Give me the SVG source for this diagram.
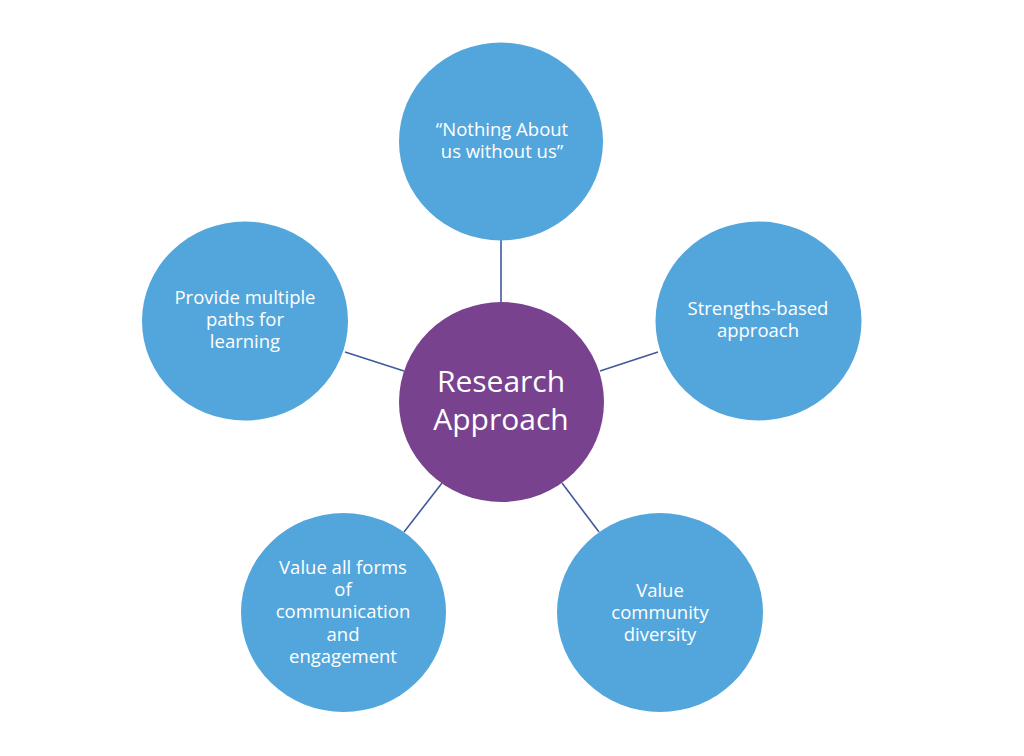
<svg xmlns="http://www.w3.org/2000/svg" width="1024" height="756" viewBox="0 0 1024 756">
<style>
.sat{fill:#53A6DC;}
.hub{fill:#78428F;}
.lbl{font-family:"Open Sans","Liberation Sans",sans-serif;font-size:18.5px;fill:#FFFFFF;text-anchor:middle;}
.hubl{font-family:"Open Sans","Liberation Sans",sans-serif;font-size:30px;fill:#FFFFFF;text-anchor:middle;}
.con{stroke:#41599B;stroke-width:1.6;fill:none;}
</style>
<rect width="1024" height="756" fill="#FFFFFF"/>
<g id="connectors">
<line class="con" x1="501" y1="240" x2="501" y2="302"/>
<line class="con" x1="345" y1="352" x2="404" y2="371"/>
<line class="con" x1="658" y1="352" x2="600" y2="371"/>
<line class="con" x1="404" y1="532" x2="442" y2="483"/>
<line class="con" x1="599" y1="532" x2="562" y2="483"/>
</g>
<g id="top">
<ellipse class="sat" cx="501" cy="141.5" rx="102" ry="99"/>
<text class="lbl" x="502" y="136">“Nothing About</text>
<text class="lbl" x="502" y="158">us without us”</text>
</g>
<g id="right">
<ellipse class="sat" cx="758.5" cy="321" rx="103" ry="99.5"/>
<text class="lbl" x="758" y="315">Strengths-based</text>
<text class="lbl" x="758" y="337">approach</text>
</g>
<g id="bottom-right">
<ellipse class="sat" cx="660" cy="612.5" rx="103" ry="99.5"/>
<text class="lbl" x="660" y="597">Value</text>
<text class="lbl" x="660" y="619">community</text>
<text class="lbl" x="660" y="641">diversity</text>
</g>
<g id="bottom-left">
<ellipse class="sat" cx="343.5" cy="612.5" rx="102.5" ry="99.5"/>
<text class="lbl" x="343" y="574">Value all forms</text>
<text class="lbl" x="343" y="596">of</text>
<text class="lbl" x="343" y="618">communication</text>
<text class="lbl" x="343" y="641">and</text>
<text class="lbl" x="343" y="663">engagement</text>
</g>
<g id="left">
<ellipse class="sat" cx="245" cy="321" rx="103" ry="99.5"/>
<text class="lbl" x="245" y="304">Provide multiple</text>
<text class="lbl" x="245" y="326">paths for</text>
<text class="lbl" x="245" y="348">learning</text>
</g>
<g id="center">
<ellipse class="hub" cx="501.5" cy="402" rx="102.5" ry="100"/>
<text class="hubl" x="501" y="392">Research</text>
<text class="hubl" x="501" y="430">Approach</text>
</g>
</svg>
